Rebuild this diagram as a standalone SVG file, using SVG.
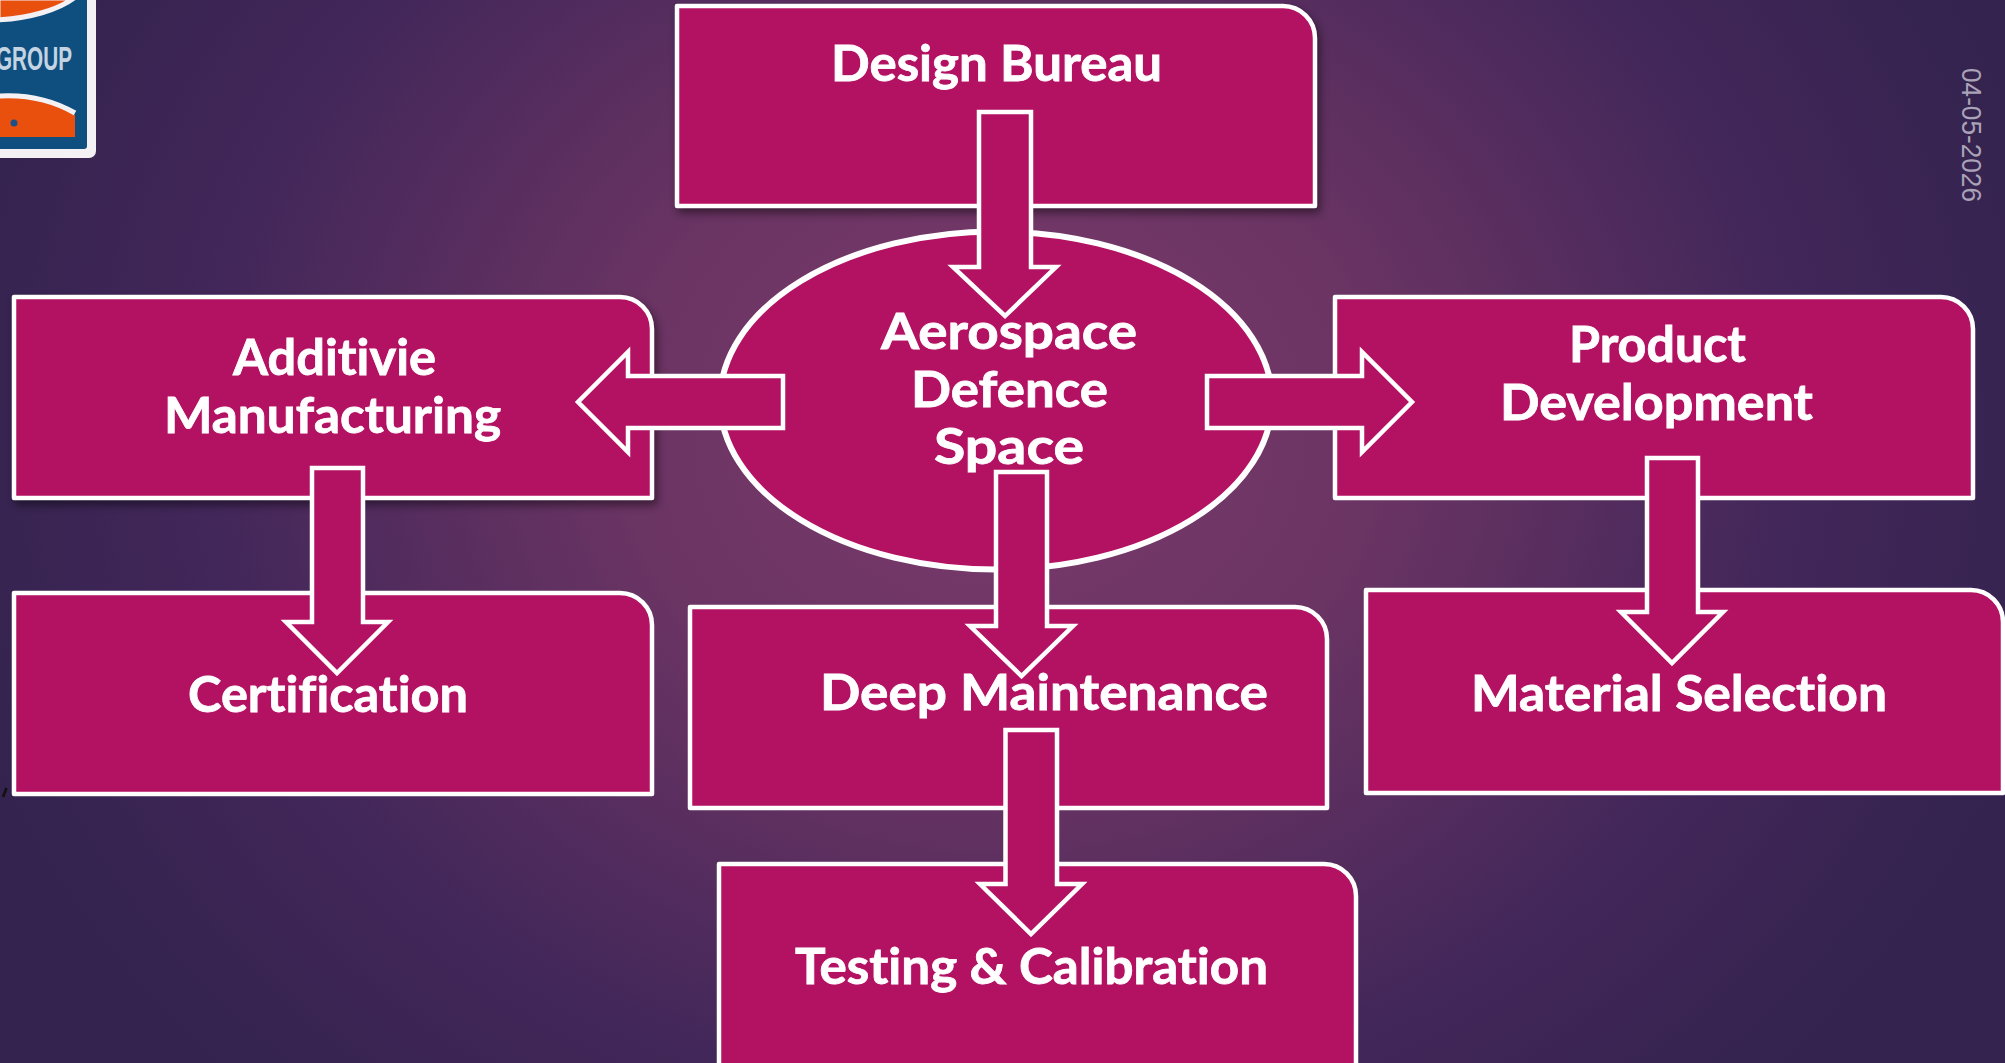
<svg xmlns="http://www.w3.org/2000/svg" width="2005" height="1063" viewBox="0 0 2005 1063">
<style>
.box{fill:#b31263;stroke:#fff;stroke-width:4.5;stroke-linejoin:round}
.shadow{filter:url(#sh)}
.arrow{fill:#b31263;stroke:#fff;stroke-width:4.5;stroke-linejoin:miter}
.t{font-family:"Lato","Liberation Sans",sans-serif;font-weight:700;font-size:50px;fill:#fff;stroke:#fff;stroke-width:0.8;font-variant-ligatures:none}
</style>
<defs>
<radialGradient id="bg" gradientUnits="userSpaceOnUse" cx="1000" cy="430" r="1090" gradientTransform="translate(1000 430) scale(1 0.85) translate(-1000 -430)">
<stop offset="0" stop-color="#7a3a6c"/>
<stop offset="0.35" stop-color="#6a3463"/>
<stop offset="0.72" stop-color="#43275a"/>
<stop offset="1" stop-color="#33234e"/>
</radialGradient>
<filter id="sh" x="-5%" y="-5%" width="112%" height="115%" color-interpolation-filters="sRGB"><feDropShadow dx="3" dy="5" stdDeviation="4" flood-color="#000" flood-opacity="0.45"/></filter>
</defs>
<rect width="2005" height="1063" fill="url(#bg)"/>
<g id="logo">
<rect x="-12" y="-12" width="108" height="170" rx="7" fill="#f4f1f5"/>
<rect x="-12" y="-12" width="99" height="161" rx="3" fill="#0f4f80"/>
<path d="M-2 20C30 18 58 10 74 -2L-2 -2Z" fill="#e9500e" stroke="#f4f1f5" stroke-width="5"/>
<path d="M-2 96C30 94 56 102 75 115V137H-2Z" fill="#e9500e"/>
<path d="M-2 96C30 94 56 102 75 113" fill="none" stroke="#f4f1f5" stroke-width="5"/>
<circle cx="14" cy="123" r="3.500" fill="#1b4f86"/>
<text x="-4" y="70" font-family="'Liberation Sans',sans-serif" font-weight="700" font-size="33" fill="#c4d4e2" textLength="76" lengthAdjust="spacingAndGlyphs">GROUP</text>
</g>
<path id="mark" d="M6.500 788L3 797" stroke="#111" stroke-width="2.500" fill="none"/>
<text id="date" transform="translate(1962 68) rotate(90)" font-family="'Liberation Sans',sans-serif" font-size="28" fill="#aaa3b8" textLength="134" lengthAdjust="spacingAndGlyphs">04-05-2026</text>
<g id="nodes">
<g id="design-bureau"><path class="box shadow" d="M677 6H1283A32 32 0 0 1 1315 38V206H677Z"/><text class="t" x="831" y="81" textLength="331" lengthAdjust="spacingAndGlyphs">Design Bureau</text></g>
<g id="additive-manufacturing"><path class="box shadow" d="M14 297H620A32 32 0 0 1 652 329V498H14Z"/><text class="t" x="233" y="375" textLength="203" lengthAdjust="spacingAndGlyphs">Additivie</text><text class="t" x="164" y="432.500" textLength="337" lengthAdjust="spacingAndGlyphs">Manufacturing</text></g>
<g id="certification"><path class="box" d="M14 593H620A32 32 0 0 1 652 625V794H14Z"/><text class="t" x="188" y="712" textLength="280" lengthAdjust="spacingAndGlyphs">Certification</text></g>
<g id="aerospace"><ellipse class="box" style="stroke-width:6" cx="996" cy="400.500" rx="276" ry="169"/><text class="t" x="881" y="349" textLength="256" lengthAdjust="spacingAndGlyphs">Aerospace</text><text class="t" x="911" y="407" textLength="197" lengthAdjust="spacingAndGlyphs">Defence</text><text class="t" x="934" y="464" textLength="150" lengthAdjust="spacingAndGlyphs">Space</text></g>
<g id="product-development"><path class="box" d="M1335 297H1941A32 32 0 0 1 1973 329V498H1335Z"/><text class="t" x="1569" y="362" textLength="177" lengthAdjust="spacingAndGlyphs">Product</text><text class="t" x="1500" y="420" textLength="313" lengthAdjust="spacingAndGlyphs">Development</text></g>
<g id="material-selection"><path class="box" d="M1366 590H1971A32 32 0 0 1 2003 622V793H1366Z"/><text class="t" x="1471" y="711" textLength="416" lengthAdjust="spacingAndGlyphs">Material Selection</text></g>
<g id="deep-maintenance"><path class="box" d="M690 607H1295A32 32 0 0 1 1327 639V808H690Z"/><text class="t" x="820" y="710" textLength="448" lengthAdjust="spacingAndGlyphs">Deep Maintenance</text></g>
<g id="testing-calibration"><path class="box" d="M719 864H1324A32 32 0 0 1 1356 896V1070H719Z"/><text class="t" x="795" y="984" textLength="473" lengthAdjust="spacingAndGlyphs">Testing &amp; Calibration</text></g>
</g>
<g id="connectors">
<path class="arrow" d="M979 112H1031V267H1056L1005 316L953 267H979Z"/>
<path class="arrow" d="M783 376V428H628V452L578 402L628 352V376Z"/>
<path class="arrow" d="M1207 376V428H1362V452L1412 402L1362 352V376Z"/>
<path class="arrow" d="M312 468H363V622H388L337 673L286 622H312Z"/>
<path class="arrow" d="M996 472H1047V626H1073L1021.500 676L970 626H996Z"/>
<path class="arrow" d="M1005.500 730H1057V884H1082L1031 934L980 884H1005.500Z"/>
<path class="arrow" d="M1647 458H1698V612H1723L1672 663L1621 612H1647Z"/>
</g>
</svg>
